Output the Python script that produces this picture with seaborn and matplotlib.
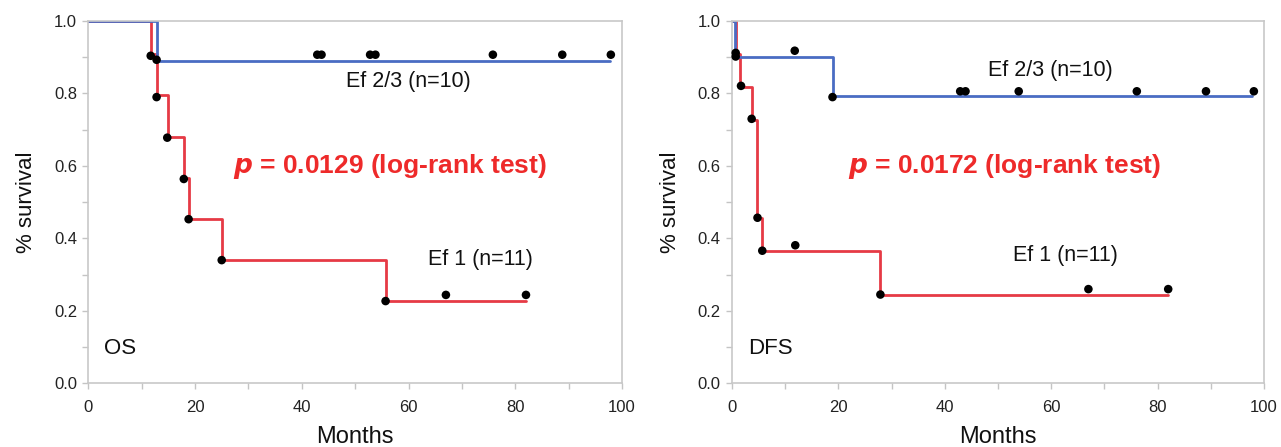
import seaborn as sns
import matplotlib.pyplot as plt
from matplotlib.ticker import MultipleLocator, FormatStrFormatter

# OS - Ef 1 (n=11), red
os_ef1_t = [0, 11.7, 12.8, 15.0, 17.9, 18.8, 25.0, 55.7, 82]
os_ef1_s = [1.0, 0.909, 0.795, 0.68, 0.566, 0.454, 0.34, 0.227, 0.227]
os_ef1_dot_t = [11.7, 12.8, 14.8, 17.9, 18.8, 25.0, 55.7, 67, 82]
os_ef1_dot_s = [0.904, 0.79, 0.678, 0.564, 0.453, 0.34, 0.227, 0.244, 0.244]

# OS - Ef 2/3 (n=10), blue
os_ef23_t = [0, 12.8, 97.8]
os_ef23_s = [1.0, 0.89, 0.89]
os_ef23_dot_t = [12.8, 42.9, 43.7, 52.8, 53.8, 75.8, 88.8, 97.9]
os_ef23_dot_s = [0.893, 0.907, 0.907, 0.907, 0.907, 0.907, 0.907, 0.907]

# DFS - Ef 1 (n=11), red
dfs_ef1_t = [0, 0.7, 1.6, 3.7, 4.8, 5.7, 27.9, 82]
dfs_ef1_s = [1.0, 0.909, 0.818, 0.727, 0.457, 0.364, 0.243, 0.243]
dfs_ef1_dot_t = [0.7, 1.7, 3.7, 4.8, 5.7, 11.9, 27.9, 67, 82]
dfs_ef1_dot_s = [0.902, 0.821, 0.73, 0.457, 0.366, 0.381, 0.245, 0.26, 0.26]

# DFS - Ef 2/3 (n=10), blue
dfs_ef23_t = [0, 0.6, 18.9, 97.8]
dfs_ef23_s = [1.0, 0.902, 0.792, 0.792]
dfs_ef23_dot_t = [0.7, 11.8, 18.9, 42.9, 43.9, 53.9, 76.1, 89.1, 98.1]
dfs_ef23_dot_s = [0.912, 0.918, 0.79, 0.806, 0.806, 0.806, 0.806, 0.806, 0.806]

RED = '#e63a45'
BLUE = '#4a6cc3'

sns.set_style('ticks')
plt.rcParams['font.family'] = ['Liberation Sans', 'DejaVu Sans']

fig = plt.figure(figsize=(12.81, 4.47), dpi=100)
axL = fig.add_axes([0.0689, 0.1425, 0.4167, 0.8105])
axR = fig.add_axes([0.5714, 0.1425, 0.4153, 0.8105])


def draw_curve(ax, t, s, dt, ds, color):
    sns.lineplot(x=t, y=s, ax=ax, color=color, lw=2.0, drawstyle='steps-post',
                 estimator=None, sort=False, zorder=2)
    sns.scatterplot(x=dt, y=ds, ax=ax, color='black', s=38, edgecolor='none',
                    zorder=3, clip_on=False)


panels = [
    (axL, 'OS', (os_ef1_t, os_ef1_s, os_ef1_dot_t, os_ef1_dot_s),
     (os_ef23_t, os_ef23_s, os_ef23_dot_t, os_ef23_dot_s),
     'p = 0.0129 (log-rank test)', (56.5, 0.598), (59.9, 0.833), (73.4, 0.341)),
    (axR, 'DFS', (dfs_ef1_t, dfs_ef1_s, dfs_ef1_dot_t, dfs_ef1_dot_s),
     (dfs_ef23_t, dfs_ef23_s, dfs_ef23_dot_t, dfs_ef23_dot_s),
     'p = 0.0172 (log-rank test)', (51.3, 0.598), (59.8, 0.863), (62.6, 0.352)),
]

for ax, name, ef1, ef23, ptxt, ppos, pos23, pos1 in panels:
    draw_curve(ax, *ef1, RED)
    draw_curve(ax, *ef23, BLUE)
    ax.set_xlim(0, 100)
    ax.set_ylim(0, 1.0)
    ax.xaxis.set_major_locator(MultipleLocator(20))
    ax.xaxis.set_minor_locator(MultipleLocator(10))
    ax.yaxis.set_major_locator(MultipleLocator(0.2))
    ax.yaxis.set_minor_locator(MultipleLocator(0.1))
    ax.yaxis.set_major_formatter(FormatStrFormatter('%.1f'))
    ax.tick_params(which='both', direction='out', length=4, width=1,
                   color='#c4c4c4', labelsize=12, labelcolor='#222222')
    ax.tick_params(axis='x', pad=8)
    ax.tick_params(axis='y', pad=4)
    for sp in ax.spines.values():
        sp.set_color('#c8c8c8')
        sp.set_linewidth(1.2)
    ax.set_xlabel('Months', fontsize=17, labelpad=8, color='#111111')
    ax.set_ylabel('% survival', fontsize=16, labelpad=12, color='#111111')
    ax.text(3.0, 0.095, name, fontsize=16, va='center', ha='left', color='#111111')
    ax.text(pos23[0], pos23[1], 'Ef 2/3 (n=10)', fontsize=15.5, ha='center', va='center', color='#111111')
    ax.text(pos1[0], pos1[1], 'Ef 1 (n=11)', fontsize=15.5, ha='center', va='center', color='#111111')
    ax.text(ppos[0], ppos[1], r'$\bfit{p}$' + ptxt[1:], fontsize=19, fontweight='bold',
            ha='center', va='center', color='#ee2a2a')

fig.savefig('out.png', dpi=100)
